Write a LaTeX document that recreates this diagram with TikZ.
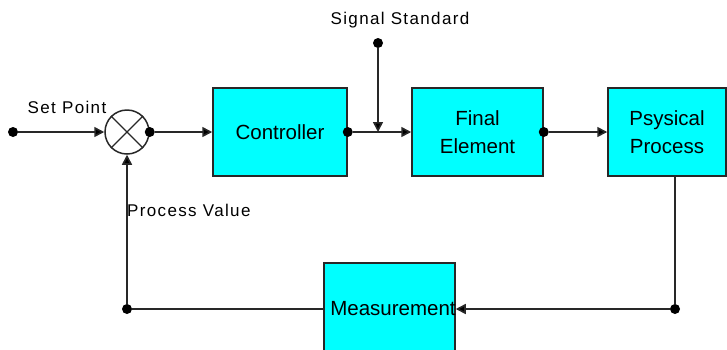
\documentclass[tikz,border=0pt]{standalone}
\usepackage{fontspec}
\setmainfont{Liberation Sans}
\newfontfamily\lblfont[LetterSpace=8]{Liberation Sans}
\usetikzlibrary{arrows.meta}
\definecolor{boxcyan}{RGB}{0,255,255}
\definecolor{edge}{RGB}{40,40,40}
\begin{document}
\begin{tikzpicture}[x=1pt,y=-1pt,
  blk/.style={draw=edge, line width=1.5pt, fill=boxcyan, inner sep=0pt,
              font=\fontsize{20.5}{28}\selectfont, align=center},
  dotn/.style={circle, fill=black, inner sep=0pt, minimum size=10pt},
  wire/.style={draw=edge, line width=1.6pt},
  arr/.style={wire, -{Triangle[length=10pt,width=10pt,fill=black]}},
  lbl/.style={font=\lblfont\fontsize{17}{20}\selectfont, inner sep=0pt},
  btxt/.style={font=\fontsize{20.5}{24}\selectfont, inner sep=0pt}]
\useasboundingbox (0,0) rectangle (727,349);
% blocks
\node[blk, minimum width=134pt, minimum height=88pt] (ctrl) at (280,132) {Controller};
\node[blk, minimum width=131pt, minimum height=88pt] (fin) at (477.5,132) {Final\\Element};
\node[blk, minimum width=118pt, minimum height=88pt] (psy) at (667,132) {Psysical\\Process};
\node[blk, minimum width=131pt, minimum height=92pt] (meas) at (389.5,309) {};
\node[btxt] (mt) at (393,309) {Measurement};
% summing junction
\node[circle, draw=edge, line width=1.5pt, minimum size=44pt, inner sep=0pt] (sum) at (127,132) {};
\draw[wire, line width=1.2pt] (sum.north west) -- (sum.south east);
\draw[wire, line width=1.2pt] (sum.north east) -- (sum.south west);
% forward path
\node[dotn] (d0) at (13,132) {};
\draw[arr] (d0) -- (sum.west);
\node[dotn] (d1) at (sum.east) {};
\draw[arr] (d1) -- (ctrl.west);
\node[dotn] (d2) at (ctrl.east) {};
\draw[arr] (d2) -- (fin.west);
\node[dotn] (d3) at (378,43) {};
\coordinate (j) at (d3 |- ctrl.east);
\draw[arr] (d3) -- (j);
\node[dotn] (d6) at (fin.east) {};
\draw[arr] (d6) -- (psy.west);
% feedback path
\node[dotn] (d4) at (675,309) {};
\draw[wire] (psy.south -| d4) -- (d4);
\draw[arr] (d4) -- (meas.east |- d4);
\node[dotn] (d5) at (127,309) {};
\draw[wire] (meas.west) -- (d5);
\draw[arr] (d5) -- (sum.south);
% labels
\node[lbl] (sig) at (400,20) {Signal Standard};
\node[lbl] (sp) at (67,107) {Set Point};
\node[lbl, anchor=west] (pv) at (127,210) {Process Value};
\end{tikzpicture}
\end{document}
